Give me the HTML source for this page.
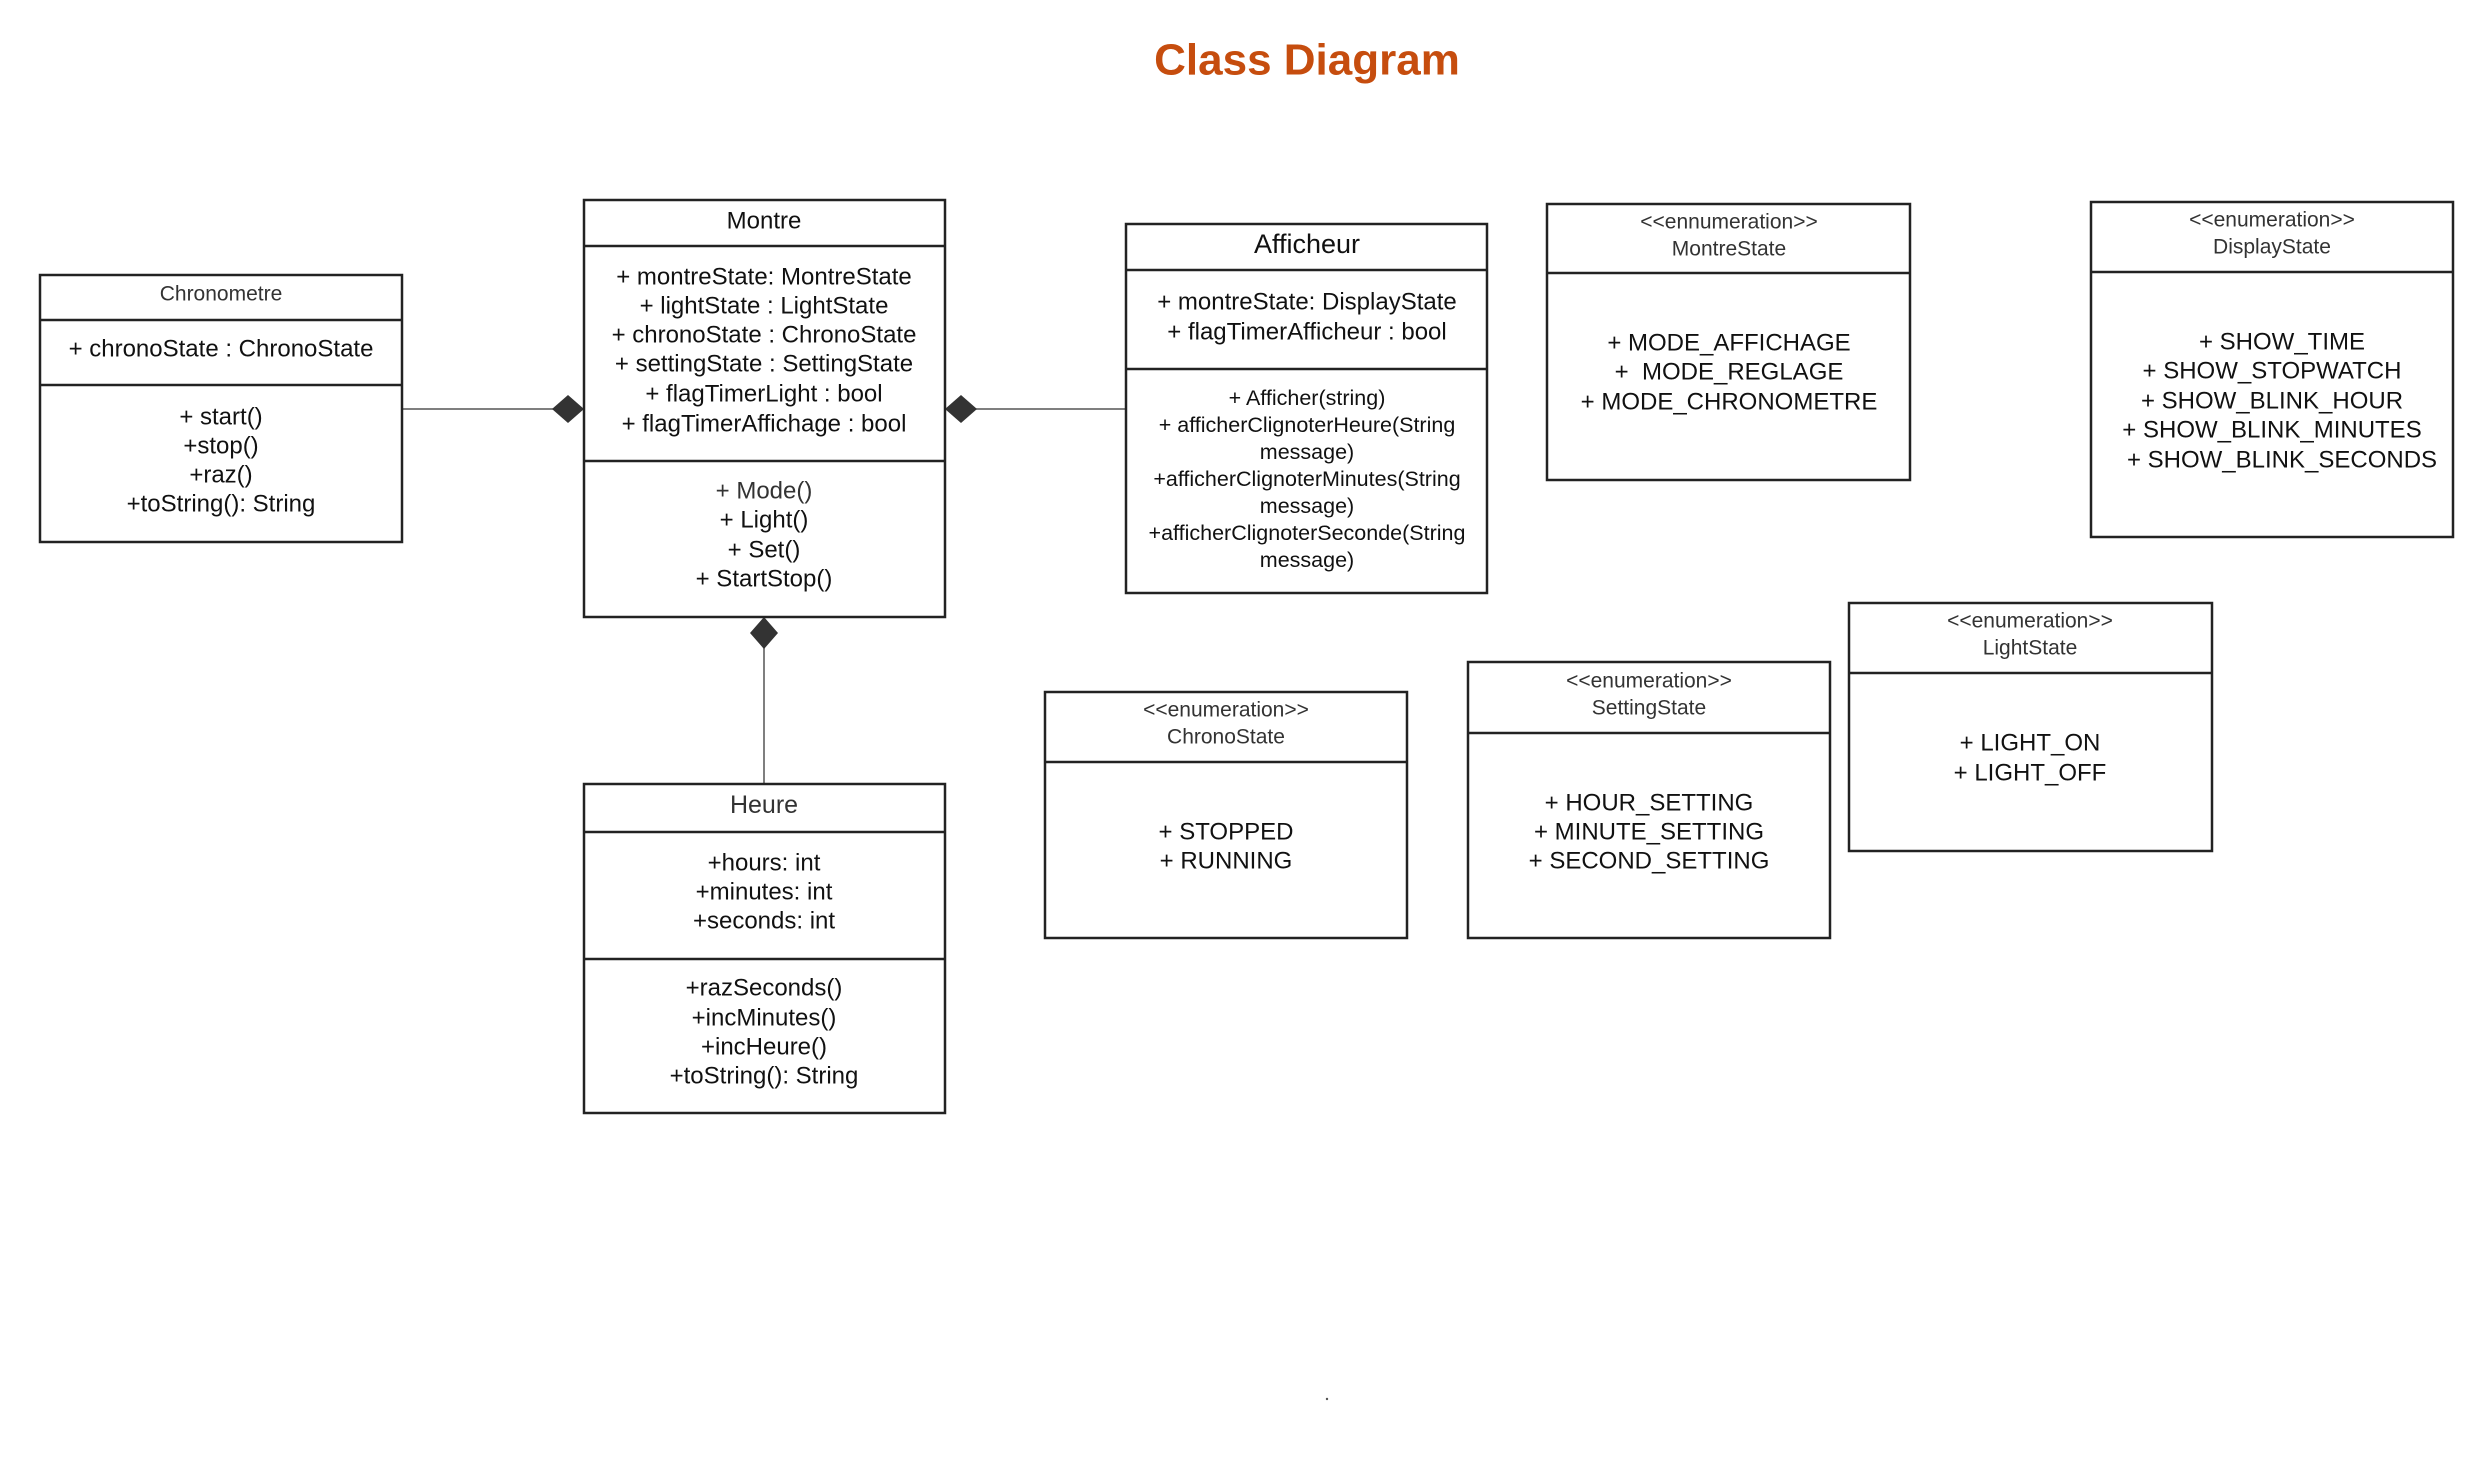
<!DOCTYPE html>
<html><head><meta charset="utf-8"><style>
html,body{margin:0;padding:0;background:#fff;}
svg{display:block;}
text{font-family:"Liberation Sans",Arial,sans-serif;fill:#111;text-anchor:middle;dominant-baseline:central;}
.t{font-size:24px;}
.s{font-size:21px;fill:#333;}
.m{font-size:21.5px;}
rect{fill:#fff;stroke:#222;stroke-width:2.5;}
line{stroke:#222;stroke-width:2.5;}
.c{stroke:#555;stroke-width:1.5;}
</style></head><body>
<svg width="2480" height="1460" viewBox="0 0 2480 1460">
<text x="1307" y="60" style="font-size:44px;font-weight:bold;fill:#c64d0e;">Class Diagram</text>

<!-- connectors -->
<line class="c" x1="402" y1="409" x2="556" y2="409"/>
<polygon points="552,409 568,395 584,409 568,423" fill="#333"/>
<line class="c" x1="976" y1="409" x2="1126" y2="409"/>
<polygon points="945,409 961,395 977,409 961,423" fill="#333"/>
<line class="c" x1="764" y1="645" x2="764" y2="784"/>
<polygon points="764,617 778,633 764,649 750,633" fill="#333"/>

<!-- Chronometre -->
<rect x="40" y="275" width="362" height="267"/>
<line x1="40" y1="320" x2="402" y2="320"/><line x1="40" y1="385" x2="402" y2="385"/>
<text class="s" x="221" y="294">Chronometre</text>
<text class="t" x="221" y="349">+ chronoState : ChronoState</text>
<text class="t" x="221" y="417">+ start()</text>
<text class="t" x="221" y="446">+stop()</text>
<text class="t" x="221" y="475">+raz()</text>
<text class="t" x="221" y="504">+toString(): String</text>

<!-- Montre -->
<rect x="584" y="200" width="361" height="417"/>
<line x1="584" y1="246" x2="945" y2="246"/><line x1="584" y1="461" x2="945" y2="461"/>
<text class="t" x="764" y="221">Montre</text>
<text class="t" x="764" y="277">+ montreState: MontreState</text>
<text class="t" x="764" y="306">+ lightState : LightState</text>
<text class="t" x="764" y="335">+ chronoState : ChronoState</text>
<text class="t" x="764" y="364">+ settingState : SettingState</text>
<text class="t" x="764" y="394">+ flagTimerLight : bool</text>
<text class="t" x="764" y="424">+ flagTimerAffichage : bool</text>
<text class="t" x="764" y="491" style="fill:#333">+ Mode()</text>
<text class="t" x="764" y="520">+ Light()</text>
<text class="t" x="764" y="550">+ Set()</text>
<text class="t" x="764" y="579">+ StartStop()</text>

<!-- Afficheur -->
<rect x="1126" y="224" width="361" height="369"/>
<line x1="1126" y1="270" x2="1487" y2="270"/><line x1="1126" y1="369" x2="1487" y2="369"/>
<text x="1307" y="244" style="font-size:27px">Afficheur</text>
<text class="t" x="1307" y="302">+ montreState: DisplayState</text>
<text class="t" x="1307" y="332">+ flagTimerAfficheur : bool</text>
<text class="m" x="1307" y="398">+ Afficher(string)</text>
<text class="m" x="1307" y="425">+ afficherClignoterHeure(String</text>
<text class="m" x="1307" y="452">message)</text>
<text class="m" x="1307" y="479">+afficherClignoterMinutes(String</text>
<text class="m" x="1307" y="506">message)</text>
<text class="m" x="1307" y="533">+afficherClignoterSeconde(String</text>
<text class="m" x="1307" y="560">message)</text>

<!-- MontreState -->
<rect x="1547" y="204" width="363" height="276"/>
<line x1="1547" y1="273" x2="1910" y2="273"/>
<text class="s" x="1729" y="222">&lt;&lt;ennumeration&gt;&gt;</text>
<text class="s" x="1729" y="249">MontreState</text>
<text class="t" x="1729" y="343">+ MODE_AFFICHAGE</text>
<text class="t" x="1729" y="372">+&#160; MODE_REGLAGE</text>
<text class="t" x="1729" y="402">+ MODE_CHRONOMETRE</text>

<!-- DisplayState -->
<rect x="2091" y="202" width="362" height="335"/>
<line x1="2091" y1="272" x2="2453" y2="272"/>
<text class="s" x="2272" y="220">&lt;&lt;enumeration&gt;&gt;</text>
<text class="s" x="2272" y="247">DisplayState</text>
<text class="t" x="2282" y="342">+ SHOW_TIME</text>
<text class="t" x="2272" y="371">+ SHOW_STOPWATCH</text>
<text class="t" x="2272" y="401">+ SHOW_BLINK_HOUR</text>
<text class="t" x="2272" y="430">+ SHOW_BLINK_MINUTES</text>
<text class="t" x="2282" y="460">+ SHOW_BLINK_SECONDS</text>

<!-- ChronoState -->
<rect x="1045" y="692" width="362" height="246"/>
<line x1="1045" y1="762" x2="1407" y2="762"/>
<text class="s" x="1226" y="710">&lt;&lt;enumeration&gt;&gt;</text>
<text class="s" x="1226" y="737">ChronoState</text>
<text class="t" x="1226" y="832">+ STOPPED</text>
<text class="t" x="1226" y="861">+ RUNNING</text>

<!-- SettingState -->
<rect x="1468" y="662" width="362" height="276"/>
<line x1="1468" y1="733" x2="1830" y2="733"/>
<text class="s" x="1649" y="681">&lt;&lt;enumeration&gt;&gt;</text>
<text class="s" x="1649" y="708">SettingState</text>
<text class="t" x="1649" y="803">+ HOUR_SETTING</text>
<text class="t" x="1649" y="832">+ MINUTE_SETTING</text>
<text class="t" x="1649" y="861">+ SECOND_SETTING</text>

<!-- LightState -->
<rect x="1849" y="603" width="363" height="248"/>
<line x1="1849" y1="673" x2="2212" y2="673"/>
<text class="s" x="2030" y="621">&lt;&lt;enumeration&gt;&gt;</text>
<text class="s" x="2030" y="648">LightState</text>
<text class="t" x="2030" y="743">+ LIGHT_ON</text>
<text class="t" x="2030" y="773">+ LIGHT_OFF</text>

<!-- Heure -->
<rect x="584" y="784" width="361" height="329"/>
<line x1="584" y1="832" x2="945" y2="832"/><line x1="584" y1="959" x2="945" y2="959"/>
<text x="764" y="805" style="font-size:25px;fill:#333">Heure</text>
<text class="t" x="764" y="863">+hours: int</text>
<text class="t" x="764" y="892">+minutes: int</text>
<text class="t" x="764" y="921">+seconds: int</text>
<text class="t" x="764" y="988">+razSeconds()</text>
<text class="t" x="764" y="1018">+incMinutes()</text>
<text class="t" x="764" y="1047">+incHeure()</text>
<text class="t" x="764" y="1076">+toString(): String</text>

<circle cx="1327" cy="1399" r="1.2" fill="#555"/>
</svg>
</body></html>
